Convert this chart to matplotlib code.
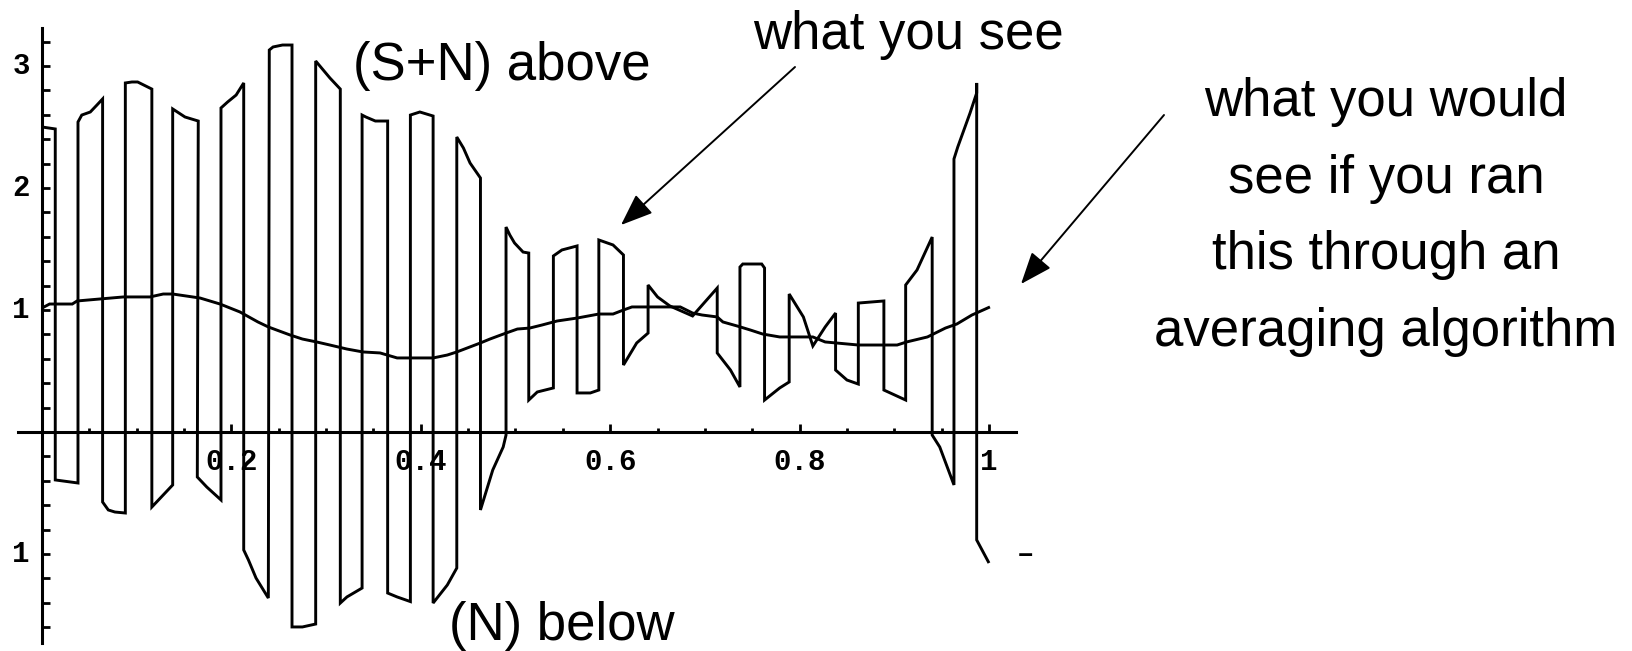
import matplotlib
matplotlib.use("Agg")
import matplotlib.pyplot as plt
import numpy as np

# Sampled signal: alternates between the (S+N) level above and the (N) level below
signal_x = [0.000, 0.014, 0.014, 0.038, 0.038, 0.042, 0.051, 0.058, 0.064, 0.064,
            0.070, 0.077, 0.088, 0.088, 0.095, 0.101, 0.116, 0.116, 0.138, 0.138,
            0.151, 0.165, 0.164, 0.174, 0.189, 0.189, 0.196, 0.205, 0.213, 0.213,
            0.218, 0.226, 0.239, 0.240, 0.244, 0.254, 0.264, 0.264, 0.275, 0.289,
            0.289, 0.304, 0.315, 0.315, 0.322, 0.338, 0.338, 0.342, 0.352, 0.365,
            0.365, 0.375, 0.389, 0.389, 0.399, 0.413, 0.413, 0.428, 0.438, 0.438,
            0.445, 0.452, 0.463, 0.463, 0.476, 0.487, 0.490, 0.490, 0.494, 0.499,
            0.508, 0.514, 0.514, 0.523, 0.540, 0.540, 0.549, 0.565, 0.565, 0.579,
            0.588, 0.588, 0.603, 0.614, 0.614, 0.628, 0.640, 0.640, 0.650, 0.663,
            0.687, 0.713, 0.713, 0.727, 0.737, 0.737, 0.740, 0.760, 0.763, 0.763,
            0.779, 0.789, 0.789, 0.804, 0.814, 0.827, 0.838, 0.838, 0.850, 0.862,
            0.862, 0.889, 0.889, 0.912, 0.912, 0.924, 0.940, 0.940, 0.948, 0.963,
            0.963, 0.967, 0.980, 0.987, 0.987, 0.987, 1.000]
signal_y = [2.500, 2.484, -0.393, -0.418, 2.541, 2.598, 2.623, 2.680, 2.730, -0.574,
            -0.639, -0.656, -0.664, 2.861, 2.869, 2.869, 2.811, -0.615, -0.434, 2.648,
            2.582, 2.549, -0.369, -0.451, -0.557, 2.656, 2.705, 2.762, 2.861, -0.967,
            -1.049, -1.197, -1.361, 3.131, 3.156, 3.172, 3.172, -1.598, -1.598, -1.574,
            3.041, 2.902, 2.811, -1.402, -1.352, -1.279, 2.598, 2.582, 2.549, 2.549,
            -1.320, -1.352, -1.390, 2.598, 2.623, 2.590, -1.402, -1.254, -1.115, 2.418,
            2.328, 2.205, 2.082, -0.639, -0.311, -0.123, -0.025, 1.680, 1.615, 1.549,
            1.475, 1.467, 0.262, 0.328, 0.361, 1.443, 1.492, 1.525, 0.320, 0.320,
            0.344, 1.574, 1.533, 1.451, 0.549, 0.730, 0.811, 1.205, 1.107, 1.033,
            0.951, 1.180, 0.648, 0.508, 0.369, 1.352, 1.377, 1.377, 1.344, 0.262,
            0.361, 0.410, 1.131, 0.943, 0.705, 0.861, 0.975, 0.508, 0.426, 0.393,
            1.057, 1.074, 0.344, 0.262, 1.205, 1.328, 1.598, -0.025, -0.123, -0.434,
            2.238, 2.336, 2.615, 2.779, 2.861, -0.885, -1.074]

# Running average of the signal
average_x = [0.000, 0.008, 0.032, 0.037, 0.086, 0.114, 0.128, 0.138, 0.167, 0.188,
             0.209, 0.228, 0.239, 0.262, 0.275, 0.290, 0.304, 0.322, 0.339, 0.357,
             0.375, 0.413, 0.428, 0.438, 0.463, 0.473, 0.490, 0.502, 0.515, 0.528,
             0.544, 0.565, 0.588, 0.603, 0.614, 0.623, 0.640, 0.674, 0.687, 0.697,
             0.713, 0.719, 0.734, 0.748, 0.761, 0.779, 0.814, 0.827, 0.862, 0.903,
             0.913, 0.935, 0.954, 0.966, 0.982, 1.001]
average_y = [1.016, 1.049, 1.049, 1.074, 1.107, 1.107, 1.131, 1.131, 1.098, 1.049,
             0.984, 0.902, 0.861, 0.795, 0.762, 0.738, 0.713, 0.680, 0.656, 0.648,
             0.607, 0.607, 0.631, 0.656, 0.730, 0.762, 0.811, 0.844, 0.852, 0.877,
             0.910, 0.934, 0.967, 0.967, 1.000, 1.025, 1.025, 1.025, 0.975, 0.959,
             0.943, 0.902, 0.869, 0.836, 0.803, 0.779, 0.779, 0.738, 0.713, 0.713,
             0.738, 0.779, 0.852, 0.885, 0.959, 1.025]

xtick_values = [0.2, 0.4, 0.6, 0.8, 1.0]
xtick_labels = ["0.2", "0.4", "0.6", "0.8", "1"]
ytick_values = [-1, 1, 2, 3]
ytick_labels = ["1", "1", "2", "3"]

W, H = 1633, 651
fig = plt.figure(figsize=(W / 100, H / 100), dpi=100)
ax = fig.add_axes([0, 0, 1, 1])

# pixel layout of the plot frame: x=0 at column 42, 947 px per unit; y=0 at row 432, 122 px per unit
x0_px, x_scale = 42, 947
y0_px, y_scale = 432, 122
ax.set_xlim(-x0_px / x_scale, (W - x0_px) / x_scale)
ax.set_ylim((y0_px - H) / y_scale, y0_px / y_scale)

line_kw = dict(color="black", lw=2.1, solid_joinstyle="miter", solid_capstyle="butt")
ax.plot(signal_x, signal_y, **line_kw)
ax.plot(average_x, average_y, **line_kw)

# axes crossing at the origin, Mathematica style
for side in ("top", "right"):
    ax.spines[side].set_visible(False)
ax.spines["left"].set_position(("data", 0))
ax.spines["bottom"].set_position(("data", 0))
ax.spines["left"].set_bounds(-1.73, 3.31)
ax.spines["bottom"].set_bounds(-0.025, 1.029)
for side in ("left", "bottom"):
    ax.spines[side].set_linewidth(2.2)
    ax.spines[side].set_color("black")

ax.set_xticks(xtick_values)
ax.set_xticks([v for v in np.arange(0.05, 1.0, 0.05) if abs(v / 0.2 - round(v / 0.2)) > 1e-6], minor=True)
ax.set_yticks(ytick_values)
ax.set_yticks([v for v in np.arange(-1.6, 3.21, 0.2)
               if abs(v) > 1e-6 and abs(v - round(v)) > 1e-6], minor=True)
ax.tick_params(axis="x", which="major", direction="in", length=6, width=2.0, labelbottom=False)
ax.tick_params(axis="x", which="minor", direction="in", length=3, width=2.0)
ax.tick_params(axis="y", which="both", direction="in", length=6, width=2.0, labelleft=False)

tick_font = dict(family=["Liberation Mono", "DejaVu Sans Mono"], fontsize=21,
                 fontweight="bold", color="black")
for v, lab in zip(xtick_values, xtick_labels):
    ax.text(v, (y0_px - 462) / y_scale, lab, ha="center", va="center", **tick_font)
for v, lab in zip(ytick_values, ytick_labels):
    ax.text((21 - x0_px) / x_scale, v, lab, ha="center", va="center", **tick_font)
# the minus sign of the -1 label ends up on the far side of the plot
ax.text((1026 - x0_px) / x_scale, -1, "\u2013", ha="center", va="center", **tick_font)


def fpx(x, y):
    return x / W, 1 - y / H


note_font = dict(family=["Liberation Sans", "DejaVu Sans"], fontsize=38, color="black")
fig.text(*fpx(502, 80), "(S+N) above", ha="center", va="baseline", **note_font)
fig.text(*fpx(562, 640), "(N) below", ha="center", va="baseline", **note_font)
fig.text(*fpx(908, 49), "what you see", ha="center", va="baseline", **note_font)
for i, line in enumerate(["what you would", "see if you ran", "this through an",
                          "averaging algorithm"]):
    fig.text(*fpx(1386, 116 + 76.5 * i), line, ha="center", va="baseline", **note_font)

arrow_kw = dict(arrowstyle="-|>,head_length=0.9,head_width=0.35", color="black", lw=1.4,
                shrinkA=0, shrinkB=0, mutation_scale=22)
ax.annotate("", xy=fpx(621, 225), xytext=fpx(795, 67), xycoords="figure fraction",
            textcoords="figure fraction", arrowprops=arrow_kw)
ax.annotate("", xy=fpx(1021, 284), xytext=fpx(1164, 115), xycoords="figure fraction",
            textcoords="figure fraction", arrowprops=arrow_kw)

fig.savefig("out.png", dpi=100, facecolor="white")
